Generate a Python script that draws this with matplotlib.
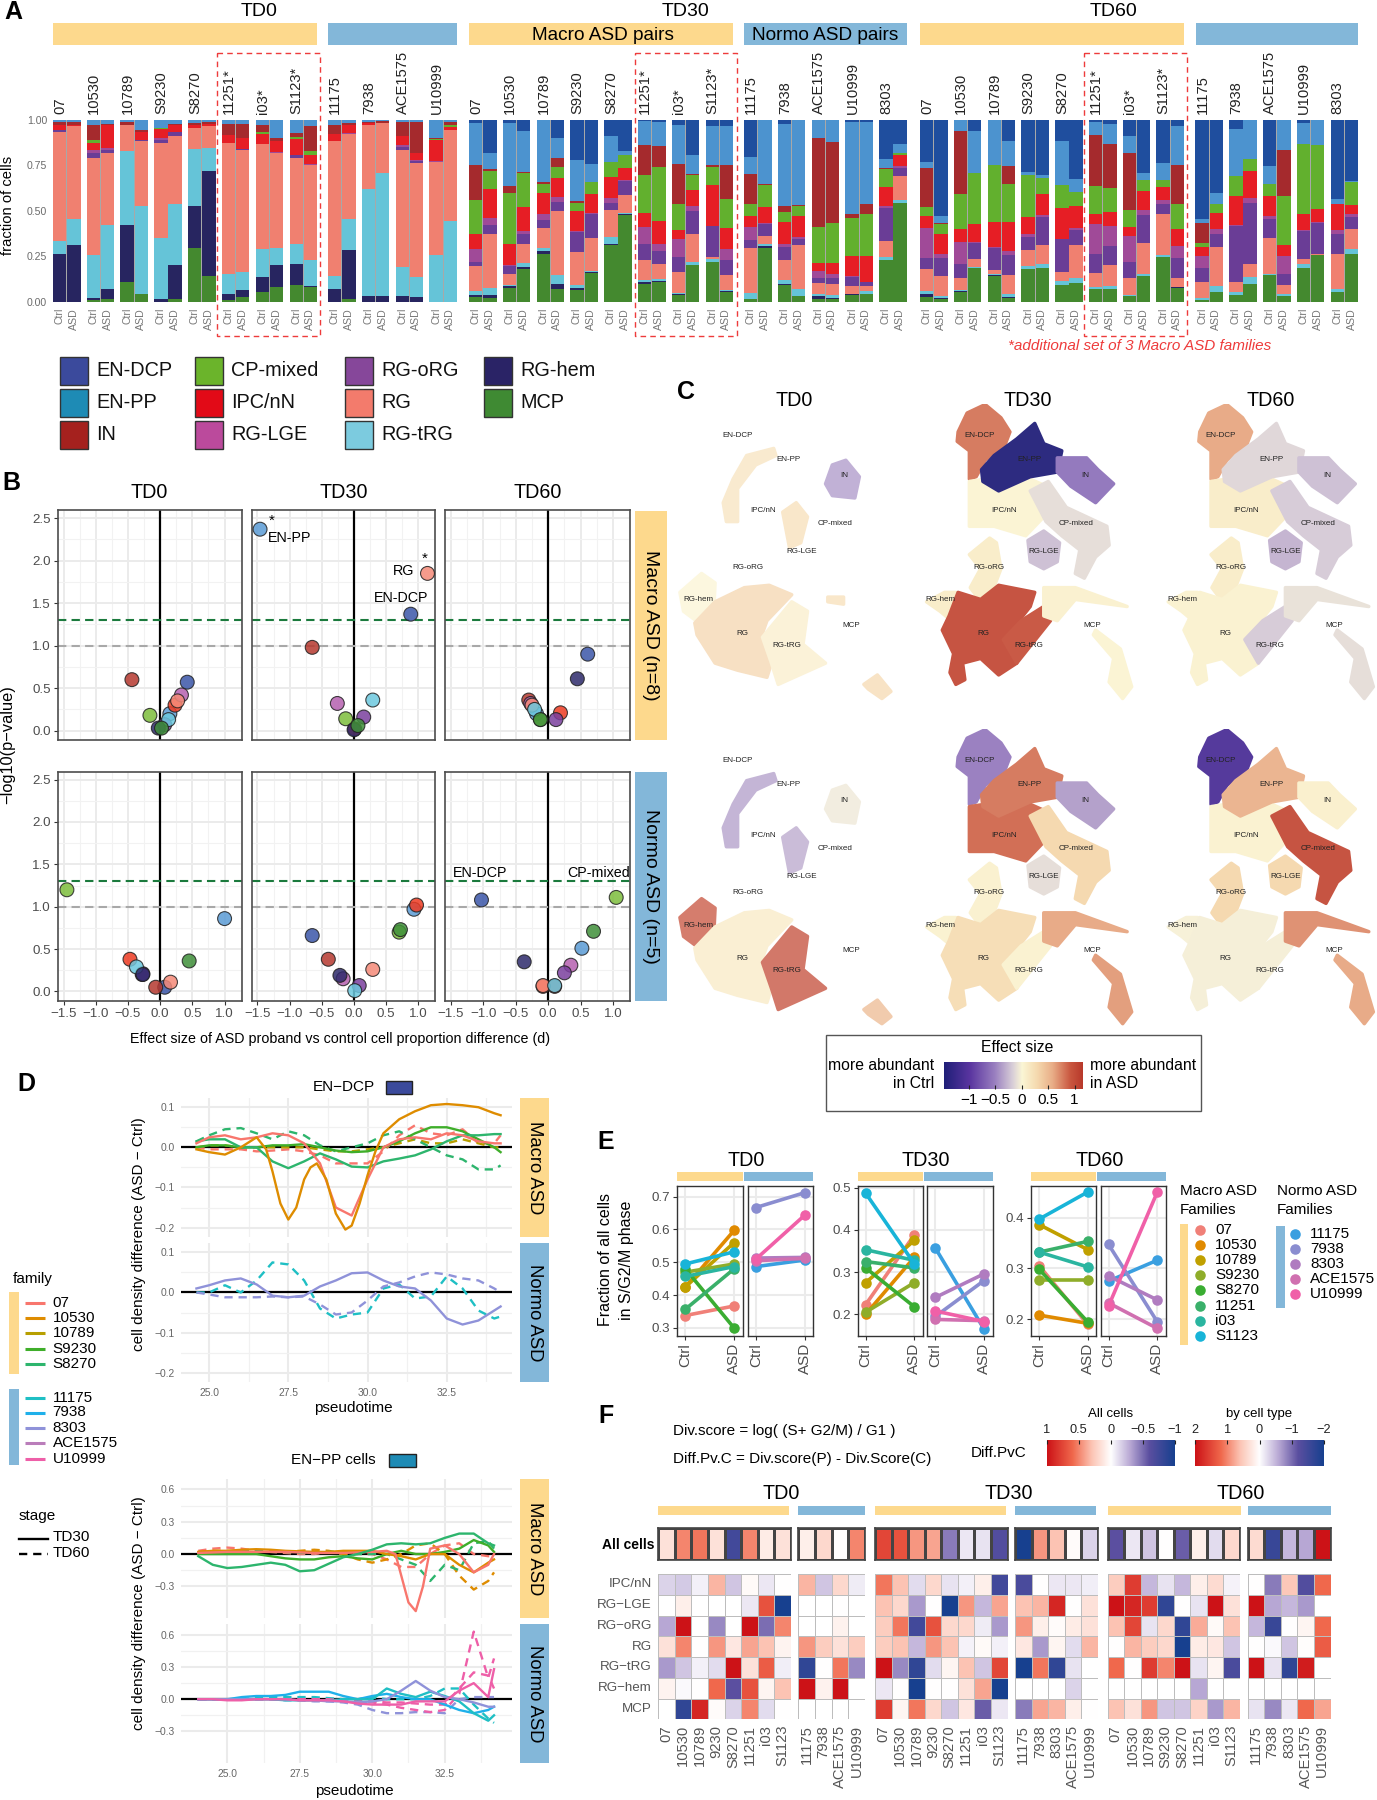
import numpy as np
import matplotlib
matplotlib.use('Agg')
import matplotlib.pyplot as plt
from matplotlib.colors import LinearSegmentedColormap, Normalize
from matplotlib.patches import Rectangle

plt.rcParams['font.family'] = ['Liberation Sans', 'DejaVu Sans']

W, H = 1377, 1800
YEL, BLU = '#FDD98D', '#83B7D9'
GREY = '#555555'

# ---------- panel A
cell_types = ['MCP', 'RG-hem', 'RG-tRG', 'RG', 'RG-oRG', 'RG-LGE', 'IPC/nN', 'CP-mixed', 'IN', 'EN-PP', 'EN-DCP']
bar_colors = ['#44892F', '#272560', '#65C4D8', '#F08070', '#6A3D96', '#A04A98', '#E61E25', '#62B02E', '#A52A2D', '#4C93CF', '#1F4E9E']
# cumulative tops of the stack, bottom to top, EN-DCP fills up to 1; Ctrl row then ASD row
macro_fams = ['07', '10530', '10789', 'S9230', 'S8270', '11251*', 'i03*', 'S1123*']
normo_fams4 = ['11175', '7938', 'ACE1575', 'U10999']
normo_fams5 = ['11175', '7938', 'ACE1575', 'U10999', '8303']
td0_macro = [
    [0, .265, .335, .935, .945, .945, .975, .975, .99, 1],
    [0, .31, .455, .965, .965, .965, .975, .975, .99, 1],
    [.01, .02, .255, .79, .82, .835, .875, .89, .97, 1],
    [.015, .07, .42, .82, .835, .845, .97, .97, .98, 1],
    [.11, .42, .83, .97, .97, .97, .975, .975, .99, 1],
    [.04, .04, .525, .885, .89, .89, .935, .935, .945, 1],
    [0, .015, .35, .875, .89, .9, .95, .955, .955, 1],
    [.015, .2, .535, .91, .935, .935, .97, .975, .98, 1],
    [.295, .525, .84, .955, .955, .955, .975, .975, .985, 1],
    [.14, .72, .845, .965, .965, .965, .98, .98, .99, 1],
    [.01, .04, .15, .875, .875, .875, .92, .92, .98, 1],
    [.025, .065, .165, .835, .84, .84, .9, .9, .98, 1],
    [.055, .135, .29, .87, .87, .87, .925, .935, .97, 1],
    [.08, .2, .295, .82, .82, .825, .885, .885, .9, 1],
    [.09, .205, .32, .79, .805, .805, .895, .905, .93, 1],
    [.08, .085, .23, .75, .755, .76, .81, .83, .965, 1]]
td0_normo = [
    [0, .07, .14, .885, .885, .885, .925, .925, .975, 1],
    [.015, .285, .455, .925, .925, .93, .97, .97, .985, 1],
    [0, .03, .62, .975, .975, .975, .985, .985, .99, 1],
    [0, .03, .71, .985, .985, .985, .985, .985, .995, 1],
    [0, .03, .19, .835, .85, .86, .91, .91, .99, 1],
    [0, .025, .135, .765, .775, .78, .82, .82, .99, 1],
    [0, 0, .255, .77, .77, .775, .89, .895, .9, 1],
    [0, 0, .445, .945, .945, .945, .96, .97, .99, 1]]
td30_macro = [
    [.025, .035, .06, .195, .22, .29, .37, .56, .75, .985],
    [.02, .035, .075, .37, .42, .46, .62, .72, .73, .82],
    [.075, .085, .09, .15, .195, .2, .32, .6, .635, .985],
    [.18, .19, .215, .32, .37, .39, .52, .71, .715, .94],
    [.26, .28, .295, .405, .45, .48, .6, .65, .66, 1],
    [.07, .1, .145, .5, .55, .575, .68, .74, .79, .9],
    [.065, .075, .09, .275, .385, .39, .5, .545, .555, .78],
    [.16, .165, .17, .35, .48, .49, .59, .66, .66, .76],
    [.31, .32, .355, .505, .545, .57, .685, .77, .77, .91],
    [.475, .48, .49, .585, .665, .67, .735, .805, .81, .83],
    [.1, .11, .12, .23, .32, .41, .49, .695, .86, .995],
    [.11, .115, .125, .205, .28, .32, .445, .74, .855, .99],
    [.035, .04, .05, .165, .245, .345, .395, .535, .76, .975],
    [.2, .2, .22, .375, .5, .525, .615, .695, .705, .805],
    [.22, .22, .235, .248, .415, .415, .64, .743, .75, .965],
    [.055, .06, .065, .145, .23, .29, .405, .565, .75, .965]]
td30_normo = [
    [.015, .015, .05, .295, .34, .41, .47, .54, .705, .795],
    [.295, .305, .315, .36, .43, .435, .52, .64, .65, 1],
    [.09, .1, .12, .23, .3, .32, .44, .495, .525, .98],
    [.03, .03, .07, .31, .345, .355, .47, .525, .53, 1],
    [.015, .03, .04, .105, .13, .17, .215, .41, .9, 1],
    [.015, .02, .035, .1, .13, .155, .215, .435, .88, 1],
    [.035, .04, .045, .085, .135, .14, .25, .46, .485, .99],
    [.04, .045, .06, .085, .11, .11, .25, .485, .54, .99],
    [.23, .23, .245, .335, .515, .525, .63, .73, .735, .785],
    [.545, .545, .56, .69, .735, .745, .805, .82, .82, .87]]
td60_macro = [
    [.025, .045, .06, .18, .24, .405, .47, .52, .735, .77],
    [.015, .02, .03, .14, .24, .26, .375, .43, .435, .47],
    [.055, .06, .065, .13, .21, .33, .4, .59, .94, 1],
    [.185, .185, .19, .235, .325, .33, .43, .71, .71, .94],
    [.14, .145, .15, .175, .295, .3, .44, .75, .75, 1],
    [.02, .025, .045, .145, .255, .28, .44, .65, .745, .885],
    [.18, .18, .195, .285, .355, .37, .465, .695, .695, .715],
    [.185, .185, .205, .31, .465, .475, .59, .68, .68, .695],
    [.09, .09, .115, .165, .345, .345, .515, .64, .64, .885],
    [.105, .105, .13, .31, .395, .405, .525, .605, .605, .675],
    [.07, .07, .08, .16, .26, .43, .485, .635, .915, .99],
    [.07, .07, .085, .2, .305, .415, .495, .625, .87, .98],
    [.03, .03, .035, .13, .22, .36, .41, .505, .82, .91],
    [.14, .14, .155, .325, .475, .505, .61, .67, .67, .71],
    [.245, .245, .255, .48, .54, .56, .63, .67, .67, .765],
    [.075, .08, .08, .13, .24, .305, .4, .54, .75, .965]]
td60_normo = [
    [.012, .012, .02, .11, .185, .25, .3, .325, .435, .455],
    [.055, .055, .085, .3, .375, .4, .49, .54, .54, .6],
    [.035, .035, .055, .11, .415, .42, .58, .69, .69, .95],
    [.1, .1, .135, .21, .545, .57, .72, .785, .785, 1],
    [.145, .145, .155, .35, .455, .47, .58, .65, .65, .745],
    [.03, .03, .04, .09, .155, .25, .31, .58, .835, 1],
    [.185, .185, .205, .235, .39, .395, .485, .87, .87, .985],
    [.255, .255, .255, .265, .435, .44, .51, .865, .865, 1],
    [.055, .055, .07, .26, .37, .395, .535, .54, .54, .565],
    [.26, .26, .29, .4, .465, .485, .53, .66, .66, .665]]
legend_a = [['EN-DCP', 'EN-PP', 'IN'], ['CP-mixed', 'IPC/nN', 'RG-LGE'], ['RG-oRG', 'RG', 'RG-tRG'], ['RG-hem', 'MCP']]
legend_a_colors = {'EN-DCP': '#3B4A9C', 'EN-PP': '#1E8BB5', 'IN': '#A5211E', 'CP-mixed': '#6BB42B', 'IPC/nN': '#E20A17',
                   'RG-LGE': '#BB4A9C', 'RG-oRG': '#86479A', 'RG': '#F37B6C', 'RG-tRG': '#7CCBDF', 'RG-hem': '#2A2366', 'MCP': '#3F8A33'}

# ---------- panel B  (x, y per cell type)
b_order = ['EN-DCP', 'EN-PP', 'IN', 'CP-mixed', 'IPC/nN', 'RG-LGE', 'RG-oRG', 'RG', 'RG-tRG', 'RG-hem', 'MCP']
b_colors = ['#3B56A8', '#5B9BD5', '#B5382F', '#7DBE3C', '#EE3B22', '#B560B0', '#7A3F9E', '#F58A78', '#6CC8DE', '#2E2A6B', '#3F8F3A']
bx_macro_td0 = [.42, .15, -.44, -.16, .23, .33, .07, .27, .13, -.03, .02]
by_macro_td0 = [.57, .2, .6, .18, .3, .42, .07, .35, .13, .03, .03]
bx_macro_td30 = [.88, -1.46, -.65, -.13, .01, -.26, .15, 1.14, .29, 0, .06]
by_macro_td30 = [1.37, 2.37, .98, .14, .02, .32, .16, 1.85, .36, .01, .06]
bx_macro_td60 = [.61, -.18, -.3, -.12, .19, -.27, .12, -.25, -.21, .45, -.12]
by_macro_td60 = [.9, .2, .36, .13, .21, .32, .13, .3, .25, .61, .13]
bx_normo_td0 = [.07, 1.0, -.07, -1.45, -.47, -.28, -.27, .16, -.37, -.27, .45]
by_normo_td0 = [.05, .86, .05, 1.2, .38, .2, .21, .11, .29, .2, .36]
bx_normo_td30 = [-.65, .93, -.4, .7, .97, -.17, .08, .29, .01, -.22, .72]
by_normo_td30 = [.66, .97, .38, .7, 1.02, .15, .07, .26, .01, .19, .73]
bx_normo_td60 = [-1.03, .52, .1, 1.05, -.08, .35, .25, -.08, .1, -.37, .7]
by_normo_td60 = [1.08, .51, .06, 1.11, .06, .31, .22, .07, .07, .35, .71]

early_shapes = {
    'EN-PP': [(125, 300), (118, 260), (140, 210), (170, 160), (230, 145), (235, 160), (190, 180), (150, 230), (150, 300)],
    'IN': [(345, 220), (360, 180), (390, 170), (420, 205), (410, 250), (360, 245)],
    'IPC': [(250, 280), (280, 260), (305, 290), (290, 345), (265, 355)],
    'hem': [(22, 450), (70, 410), (100, 430), (98, 470), (65, 515), (30, 490)],
    'RG': [(55, 515), (100, 470), (165, 440), (220, 435), (270, 455), (215, 510), (200, 550), (225, 600), (215, 630), (150, 615), (100, 600), (60, 540)],
    'tRG': [(205, 545), (270, 470), (305, 490), (295, 560), (345, 600), (240, 645), (225, 600)],
    'MCP': [(430, 645), (460, 625), (490, 660), (470, 675), (440, 655)],
    'stream': [(350, 460), (385, 460), (385, 475), (350, 470)]}
late_shapes = {
    'DCP': [(103, 110), (123, 70), (163, 52), (198, 80), (218, 110), (208, 135), (163, 170), (143, 205), (128, 210), (128, 150), (101, 130)],
    'IPC': [(128, 215), (163, 210), (193, 235), (263, 210), (298, 225), (293, 290), (253, 330), (183, 310), (128, 310)],
    'PP': [(155, 190), (183, 160), (233, 125), (273, 92), (293, 135), (333, 150), (323, 195), (263, 205), (193, 235), (158, 215)],
    'IN': [(323, 165), (388, 165), (413, 190), (448, 220), (408, 260), (353, 225), (323, 195)],
    'CP': [(263, 235), (303, 215), (343, 270), (433, 310), (438, 350), (408, 375), (383, 420), (363, 410), (373, 360), (333, 330), (298, 300)],
    'LGE': [(258, 340), (293, 320), (328, 345), (323, 385), (293, 400), (263, 385)],
    'oRG': [(128, 370), (173, 335), (188, 345), (198, 400), (178, 450), (150, 465), (130, 440), (153, 400)],
    'hem': [(33, 470), (73, 450), (98, 450), (88, 510), (63, 490)],
    'RG': [(83, 500), (103, 450), (153, 465), (193, 435), (273, 450), (263, 480), (213, 540), (203, 560), (233, 600), (193, 625), (153, 590), (113, 600), (118, 635), (98, 645), (85, 620), (93, 580), (68, 530)],
    'tRG': [(203, 550), (243, 510), (293, 480), (308, 510), (233, 600)],
    'MCP': [(408, 530), (463, 570), (488, 650), (468, 675), (438, 640), (448, 590), (403, 540)],
    'stream': [(293, 440), (363, 440), (478, 480), (363, 465), (323, 510), (293, 500)]}
effect_macro_td0 = {'EN-PP': .2, 'IN': -.45, 'IPC': .25, 'hem': .03, 'RG': .32, 'tRG': .1, 'MCP': .3, 'stream': .25}
effect_normo_td0 = {'EN-PP': -.4, 'IN': -.07, 'IPC': -.35, 'hem': .95, 'RG': .12, 'tRG': 1.0, 'MCP': .5}
effect_macro_td30 = {'DCP': .8, 'PP': -1.45, 'IN': -.6, 'IPC': .03, 'CP': -.12, 'LGE': -.25, 'oRG': .1, 'RG': 1.0, 'hem': .1, 'tRG': .95, 'MCP': .03, 'stream': .06}
effect_macro_td60 = {'DCP': .6, 'PP': -.15, 'IN': -.25, 'IPC': .1, 'CP': -.2, 'LGE': -.3, 'oRG': .1, 'RG': .05, 'hem': .05, 'tRG': -.2, 'MCP': -.12, 'stream': -.1}
effect_normo_td30 = {'DCP': -.55, 'PP': .8, 'IN': -.4, 'IPC': .85, 'CP': .3, 'LGE': -.12, 'oRG': .06, 'RG': .25, 'hem': .05, 'tRG': .05, 'MCP': .65, 'stream': .6}
effect_normo_td60 = {'DCP': -1.1, 'PP': .55, 'IN': .07, 'IPC': .05, 'CP': 1.0, 'LGE': .3, 'oRG': .3, 'RG': -.04, 'hem': -.03, 'tRG': -.04, 'MCP': .6, 'stream': .7}
umap_labels = {'EN-DCP': (150, 117), 'EN-PP': (262, 169), 'IN': (386, 203), 'IPC/nN': (206, 276), 'CP-mixed': (365, 304),
               'RG-LGE': (293, 364), 'RG-oRG': (172, 397), 'RG-hem': (64, 466), 'RG': (160, 537), 'RG-tRG': (259, 563), 'MCP': (401, 520)}

# ---------- panel D
fam_colors = {'07': '#F8766D', '10530': '#DE8C00', '10789': '#B79F00', 'S9230': '#3FAE2A', 'S8270': '#2DB56D',
              '11175': '#1FBFC4', '7938': '#1FB0EA', '8303': '#8F92D9', 'ACE1575': '#BA7DBA', 'U10999': '#EE5FA8'}
pt_dcp = [24.6, 25, 25.5, 26, 26.5, 27, 27.5, 28, 28.5, 29, 29.5, 30, 30.5, 31, 31.5, 32, 32.5, 33, 33.5, 34, 34.2]
pt_dcp_10530 = [24.6, 25, 25.5, 26, 26.5, 26.8, 27, 27.25, 27.5, 27.75, 28, 28.2, 28.4, 28.7, 29, 29.3, 29.5, 29.75, 30, 30.25, 30.5, 31, 31.5, 32, 32.5, 33, 33.5, 34, 34.2]
dcp_10530_td30 = [-.005, -.012, -.018, 0, .025, -.005, -.06, -.14, -.18, -.15, -.08, -.05, -.04, -.08, -.165, -.205, -.195, -.14, -.07, -.01, .035, .07, .09, .105, .108, .105, .1, .085, .08]
dcp_07_td30 = [.01, .025, .03, .02, .025, .035, .03, .01, -.04, -.15, -.17, -.08, 0, .02, .025, .02, .035, .03, .015, .01, .01]
dcp_s8270_td30 = [.015, .02, .02, 0, 0, -.035, -.052, -.035, -.015, -.03, -.048, -.05, -.035, -.028, -.02, -.005, .015, .03, .03, .033, .033]
dcp_s9230_td30 = [0, .005, .005, 0, 0, .005, .005, .008, 0, -.008, -.012, -.01, 0, .015, .035, .05, .05, .04, .02, 0, -.012]
dcp_s8270_td60 = [.015, .03, .045, .048, .035, .02, .04, .03, .005, -.01, 0, .01, .03, .04, .02, 0, -.02, -.03, -.055, -.055, -.045]
dcp_07_td60 = [0, -.005, -.005, -.005, -.01, -.008, -.005, -.01, -.02, -.04, -.04, -.04, -.01, .03, .055, .035, .03, .045, .01, .01, .03]
dcp_10789_td60 = [0, .005, .005, 0, 0, 0, 0, 0, -.005, -.01, -.01, -.005, 0, .01, .02, .01, .01, .02, .01, 0, 0]
dcp_8303_td30 = [.01, .018, .03, .035, .02, -.008, -.012, -.008, .015, .03, .048, .05, .03, .015, .01, -.02, -.065, -.08, -.07, -.045, -.035]
dcp_11175_td60 = [0, 0, .018, 0, .03, .075, .07, .03, -.04, -.065, -.055, -.05, .01, .02, -.015, -.01, .04, .01, -.045, -.065, -.06]
dcp_8303_td60 = [0, -.005, -.012, -.012, -.012, -.01, -.012, -.01, -.03, -.055, -.05, -.02, .015, .025, .04, .05, .045, .035, .03, .01, 0]

pt_pp = [24, 24.5, 25, 25.5, 26, 26.5, 27, 27.5, 28, 28.5, 29, 29.5, 30, 30.5, 31, 31.5, 32, 32.5, 33, 33.5, 34, 34.2]
pt_pp_07 = [24, 25, 26, 27, 28, 29, 30, 30.5, 30.8, 31, 31.25, 31.5, 31.75, 32, 32.5, 33, 33.5, 34, 34.2]
pp_07_td30 = [.01, .02, .02, .02, .01, .01, .02, .03, 0, -.2, -.45, -.53, -.3, .05, .08, 0, -.17, -.1, 0]
pp_s8270_td30 = [-.02, -.1, -.13, -.12, -.1, -.08, -.1, -.16, -.15, -.09, -.03, 0, .04, .09, .1, .09, .1, .15, .19, .19, .1, .08]
pp_10530_td30 = [.02, .03, .03, .04, .045, .04, .03, .025, .02, .02, .03, .03, .03, 0, -.02, -.05, 0, 0, -.1, -.17, -.08, -.05]
pp_s9230_td30 = [0, 0, 0, 0, 0, -.02, -.04, -.05, -.05, -.03, -.02, -.04, -.05, 0, .03, 0, 0, .02, .05, .13, .08, .02]
pp_07_td60 = [.03, .05, .06, .05, .03, .02, .01, 0, 0, .02, 0, 0, 0, -.05, -.12, -.12, 0, .08, .1, 0, -.02, -.02]
pp_10530_td60 = [.02, .03, .03, .03, .03, .03, .02, .03, .04, .03, 0, -.05, -.08, -.05, 0, .08, .1, 0, -.2, -.33, -.25, -.17]
pp_s8270_td60 = [.01, .02, .02, .03, .03, .02, .02, .01, .01, .02, .02, 0, 0, 0, -.05, -.1, -.25, -.1, -.15, .1, .12, .05]
pp_7938_td30 = [0, 0, 0, .02, .03, .03, .04, .07, .07, .07, .03, 0, .03, .05, .02, 0, 0, -.05, -.1, -.13, -.1, -.07]
pp_11175_td30 = [0, 0, 0, 0, 0, 0, -.01, -.01, -.01, -.01, 0, 0, 0, .1, .05, .02, .07, .03, -.02, -.13, -.2, -.15]
pp_8303_td30 = [0, 0, 0, 0, 0, 0, 0, -.01, -.01, -.02, -.02, -.03, -.02, 0, .08, .17, .08, .02, 0, -.03, -.07, -.07]
pp_u10999_td30 = [0, 0, -.01, -.01, 0, 0, 0, -.01, -.01, -.01, -.02, -.04, -.05, -.05, -.05, -.02, -.02, -.02, .08, .15, .02, .28]
pp_11175_td60 = [0, 0, 0, 0, .01, .02, .02, .02, .02, .01, 0, 0, .02, 0, 0, 0, .03, .1, .1, -.05, -.18, -.22]
pp_8303_td60 = [0, 0, 0, 0, 0, 0, -.01, -.01, -.02, -.02, -.03, -.05, -.1, -.13, -.13, -.12, -.12, -.13, 0, .02, .02, .02]
pp_u10999_td60 = [0, 0, 0, 0, 0, 0, 0, 0, 0, -.01, -.02, -.03, -.03, -.05, -.08, -.1, -.12, -.1, .05, .63, .2, .38]
pp_ace_td60 = [0, 0, 0, 0, 0, 0, 0, 0, 0, 0, -.01, -.01, -.02, -.03, -.03, -.04, -.05, -.05, .1, .25, .22, .1]

# ---------- panel E  (Ctrl, ASD)
e_macro = ['07', '10530', '10789', 'S9230', 'S8270', '11251', 'i03', 'S1123']
e_normo = ['11175', '7938', '8303', 'ACE1575', 'U10999']
e_macro_colors = ['#F08078', '#E08A00', '#C0A000', '#8FAD2A', '#3AAD32', '#3AB06A', '#2AB5A0', '#18B4D8']
e_normo_colors = ['#3A9FE0', '#8A8DD0', '#B07CC0', '#D070B0', '#F060A8']
e_td0_macro = [(.338, .367), (.425, .597), (.425, .56), (.47, .495), (.48, .30), (.357, .48), (.457, .487), (.495, .532)]
e_td0_normo = [(.487, .507), (.667, .712), (.513, .515), (.505, .512), (.51, .643)]
e_td30_macro = [(.223, .388), (.2, .335), (.275, .375), (.205, .275), (.31, .218), (.325, .31), (.353, .328), (.487, .32)]
e_td30_normo = [(.357, .165), (.195, .28), (.24, .296), (.188, .185), (.208, .183)]
e_td60_macro = [(.305, .19), (.208, .192), (.386, .337), (.278, .278), (.298, .195), (.332, .353), (.332, .303), (.397, .45)]
e_td60_normo = [(.275, .316), (.347, .195), (.285, .238), (.232, .182), (.226, .45)]

# ---------- panel F
f_rows = ['IPC/nN', 'RG\u2212LGE', 'RG\u2212oRG', 'RG', 'RG\u2212tRG', 'RG\u2212hem', 'MCP']
f_td0_fams = ['07', '10530', '10789', '9230', 'S8270', '11251', 'i03', 'S1123']
f_td60_fams = ['07', '10530', '10789', 'S9230', 'S8270', '11251', 'i03', 'S1123']
f_n4 = ['11175', '7938', 'ACE1575', 'U10999']
f_n5 = ['11175', '7938', '8303', 'ACE1575', 'U10999']
n = np.nan
all_td0_macro = [.15, .5, .55, .15, -.75, .5, .1, .15]
all_td0_normo = [.08, .2, 0, .5]
all_td30_macro = [.75, .7, .45, .4, -.45, -.08, -.1, -.65]
all_td30_normo = [-1, .45, .3, .02, -.15]
all_td60_macro = [-.6, -.08, -.2, 0, -.55, .08, -.12, .2]
all_td60_normo = [.18, -.8, -.25, -.3, 1]
cell_td0_macro = [[-.15, -.18, -.05, .35, -.2, .03, -.08, 0], [n, .08, n, n, n, -.08, .7, -1], [-.3, 1, n, -.4, n, 1, -.5, .5],
                  [.15, .5, 0, .45, .12, .4, .3, .06], [-.35, -.2, -.05, -.12, 1, .15, .65, -.06], [.06, -.02, 0, .6, -.6, .7, .05, .3],
                  [n, -.85, .9, .02, -.15, .5, -.12, 0]]
cell_td0_normo = [[.35, -.2, .2, -.07], [n, n, 0, n], [n, n, .07, n], [.45, .25, .15, .25], [-.85, 0, .55, -.4], [1, .07, 1, n], [n, n, n, n]]
cell_td30_macro = [[.55, .3, -.12, .2, -.1, -.05, .08, -.75], [.3, .2, -.35, 0, -1, .45, -.25, .4], [.25, .55, -.75, .7, .2, .2, -.07, -.35],
                   [.25, .3, -.25, .45, .3, -.04, .03, -.05], [1, -.4, -.85, -.12, .05, .3, -.2, .75], [-.08, 0, -1, 0, 0, .15, .4, -1],
                   [.8, .05, .55, .2, -.2, .12, -.55, -.08]]
cell_td30_normo = [[-.7, 0, -.08, -.08, -.06], [.3, .35, .9, 0, .15], [.45, .08, .02, .1, .15], [.12, -.35, .05, -.12, .35],
                   [-1, .55, -.85, -.1, n], [n, n, n, -.15, n], [-.45, .4, .35, .08, 0]]
cell_td60_macro = [[.25, .8, -.25, -.1, -.25, .08, .18, -.04], [1, .9, .8, -.85, 0, -.1, 1, .15], [.3, .75, -.1, .2, -.85, .38, .03, .3],
                   [0, .35, .25, .2, -1, .1, .12, -.2], [.6, 0, .8, .5, 1, -.1, .05, -.7], [n, n, n, n, n, -.3, n, n],
                   [.3, .15, .45, -.2, -.2, .22, -.35, .35]]
cell_td60_normo = [[0, -.45, .28, -.65, .6], [1, -.3, -.25, -.35, n], [-.25, -.8, 0, .05, .6], [0, -.02, -.2, .01, .65],
                   [1, -.1, -.85, .95, n], [n, n, n, n, n], [-.1, -.4, -.08, .6, .4]]

fig = plt.figure(figsize=(W / 100, H / 100), dpi=100)


def axpx(x0, y0, x1, y1):
    return fig.add_axes([x0 / W, 1 - y1 / H, (x1 - x0) / W, (y1 - y0) / H])


bg = axpx(0, 0, W, H)
bg.set_xlim(0, W)
bg.set_ylim(H, 0)
bg.axis('off')


def label(x, y, s, size=10, color='black', ha='center', va='center', **kw):
    bg.text(x, y, s, fontsize=size, color=color, ha=ha, va=va, **kw)


def box(x0, y0, x1, y1, color, **kw):
    bg.add_patch(Rectangle((x0, y0), x1 - x0, y1 - y0, facecolor=color, **{'edgecolor': 'none', **kw}))


for s, x, y in [('A', 13, 12), ('B', 11, 483), ('C', 686, 392), ('D', 26, 1084), ('E', 606, 1142), ('F', 606, 1416)]:
    label(x, y, s, 18, fontweight='bold')

# ---------- A
ax_a = axpx(0, 120, W, 301.7)
ax_a.set_xlim(0, W)
ax_a.set_ylim(0, 1)
ax_a.patch.set_alpha(0)
for sp in ax_a.spines.values():
    sp.set_visible(False)
ax_a.set_xticks([])
ax_a.set_yticks([0, .25, .5, .75, 1])
ax_a.set_yticklabels(['0.00', '0.25', '0.50', '0.75', '1.00'], fontsize=7.6, color='#6b6b6b')
ax_a.tick_params(axis='y', length=0, pad=-34)
label(8, 205, 'fraction of cells', 10.6, rotation=90)

groups_a = [(53, macro_fams, td0_macro, YEL), (328, normo_fams4, td0_normo, BLU), (469, macro_fams, td30_macro, YEL),
            (744, normo_fams5, td30_normo, BLU), (920, macro_fams, td60_macro, YEL), (1195.5, normo_fams5, td60_normo, BLU)]
pitch, bar_w = 33.8, 13.4
for x0, fams, tops, strip in groups_a:
    box(x0, 22.7, x0 + pitch * len(fams) - 6.4, 45, strip)
    for i, fam in enumerate(fams):
        px = x0 + i * pitch
        label(px + 7, 114, fam, 10.6, color='#222222', rotation=90, va='bottom')
        ax_a.bar(px + 13.7, 1, width=27.4, color='#A8A8A8', linewidth=0, zorder=0)
        for j, who in enumerate(['Ctrl', 'ASD']):
            cx = px + 6.6 + j * 14.2
            row = list(tops[2 * i + j]) + [1]
            bottoms = [0] + row[:-1]
            for k in range(11):
                ax_a.bar(cx, row[k] - bottoms[k], bottom=bottoms[k], width=bar_w, color=bar_colors[k], linewidth=0, zorder=1)
            label(cx, 308, who, 7.6, color='#777777', rotation=90, va='top')
for x0, x1 in [(217, 320), (635, 737), (1084, 1187)]:
    bg.add_patch(Rectangle((x0, 53), x1 - x0, 283, fill=False, edgecolor='#EE3B3B', linestyle=(0, (4, 3)), linewidth=1))
label(259, 11, 'TD0', 14)
label(686, 11, 'TD30', 14)
label(1113, 11, 'TD60', 14)
label(603, 35, 'Macro ASD pairs', 13.7)
label(825, 35, 'Normo ASD pairs', 13.7)
label(1008, 346, '*additional set of 3 Macro ASD families', 11, color='#EE3B3B', ha='left', style='italic')
for col, sx, tx in zip(legend_a, [60, 195, 345, 484], [96, 231, 381, 520]):
    for name, sy in zip(col, [357, 388.5, 421]):
        box(sx, sy, sx + 28, sy + 28, legend_a_colors[name], edgecolor='#333333', linewidth=1)
        label(tx, sy + 14, name, 14.3, ha='left', color='#111111')

# ---------- B
b_x = [(57.7, 241.5), (251.5, 435.4), (445, 630)]
b_y = [(510.5, 740), (772, 1000.8)]
b_data = [[(bx_macro_td0, by_macro_td0), (bx_macro_td30, by_macro_td30), (bx_macro_td60, by_macro_td60)],
          [(bx_normo_td0, by_normo_td0), (bx_normo_td30, by_normo_td30), (bx_normo_td60, by_normo_td60)]]
b_axes = {}
for r, (y0, y1) in enumerate(b_y):
    for c, (x0, x1) in enumerate(b_x):
        ax = axpx(x0, y0, x1, y1)
        b_axes[r, c] = ax
        ax.set_xlim(-1.593, 1.263)
        ax.set_ylim(-.11, 2.59)
        ax.set_xticks([-1.5, -1, -.5, 0, .5, 1])
        ax.set_yticks([0, .5, 1, 1.5, 2, 2.5])
        ax.set_xticks(np.arange(-1.25, 1.26, .5), minor=True)
        ax.set_yticks(np.arange(.25, 2.3, .5), minor=True)
        ax.grid(True, which='major', color='#EBEBEB', lw=1.4)
        ax.grid(True, which='minor', color='#F2F2F2', lw=.8)
        ax.set_axisbelow(True)
        ax.tick_params(which='minor', length=0)
        ax.tick_params(which='major', labelsize=9.6, labelcolor='#4D4D4D', color='#333333', length=3, width=.8, pad=2)
        if r == 0:
            ax.tick_params(axis='x', which='major', labelbottom=False, length=0)
        if c > 0:
            ax.tick_params(axis='y', which='major', labelleft=False, length=0)
        for sp in ax.spines.values():
            sp.set_color('#4D4D4D')
            sp.set_linewidth(1.2)
        ax.axvline(0, color='black', lw=1.6, zorder=2)
        ax.axhline(1.3, color='#1B7A3D', lw=1.5, ls=(0, (4, 2.5)), zorder=2)
        ax.axhline(1.0, color='#A8A8A8', lw=1.5, ls=(0, (4, 2.5)), zorder=2)
        xs, ys = b_data[r][c]
        ax.scatter(xs, ys, s=100, c=b_colors, edgecolors='#222222', linewidths=.8, alpha=.85, zorder=3, clip_on=False)
b_axes[0, 1].text(-1.343, 2.27, 'EN-PP', fontsize=10.3, va='center')
b_axes[0, 1].text(-1.274, 2.47, '*', fontsize=11, va='center', ha='center')
b_axes[0, 1].text(.934, 1.88, 'RG', fontsize=10.3, va='center', ha='right')
b_axes[0, 1].text(1.09, 2.02, '*', fontsize=11, va='center', ha='center')
b_axes[0, 1].text(1.156, 1.56, 'EN-DCP', fontsize=10.3, va='center', ha='right')
b_axes[1, 2].text(-1.47, 1.40, 'EN-DCP', fontsize=10.3, va='center')
b_axes[1, 2].text(1.257, 1.40, 'CP-mixed', fontsize=10.3, va='center', ha='right')
for (x0, x1), t in zip(b_x, ['TD0', 'TD30', 'TD60']):
    label((x0 + x1) / 2, 492, t, 14.2)
box(635, 510.5, 666.5, 740, YEL)
box(635, 772, 666.5, 1000.8, BLU)
label(651, 625, 'Macro ASD (n=8)', 14, rotation=-90)
label(651, 886, 'Normo ASD (n=5)', 14, rotation=-90)
label(8, 745, '\u2212log10(p\u2212value)', 11.8, rotation=90)
label(340, 1038.6, 'Effect size of ASD proband vs control cell proportion difference (d)', 10.3)

# ---------- C
neg = 1.48 / 2.63
umap_cmap = LinearSegmentedColormap.from_list('effect', [
    (0, '#1F1F78'), (neg * .33, '#5A35A0'), (neg * .65, '#9A80C0'), (neg * .88, '#D9CFD8'), (neg, '#FBF6D5'),
    (neg + (1 - neg) * .25, '#F5D9AE'), (neg + (1 - neg) * .5, '#E9AE88'), (neg + (1 - neg) * .8, '#C9563F'), (1, '#B8392B')])
umap_norm = Normalize(-1.48, 1.15)
umap_panels = [[(early_shapes, effect_macro_td0, .7), (late_shapes, effect_macro_td30, .95), (late_shapes, effect_macro_td60, .95)],
               [(early_shapes, effect_normo_td0, .75), (late_shapes, effect_normo_td30, .95), (late_shapes, effect_normo_td60, .95)]]
for r, row in enumerate(umap_panels):
    for c, (shapes, effects, fade) in enumerate(row):
        x0 = 670 + c * 536 / 2.218
        y0 = 380 + (50 + r * 689) / 2.119
        ax = axpx(x0, y0, x0 + 530 / 2.218, y0 + 650 / 2.119)
        ax.set_xlim(0, 530)
        ax.set_ylim(700, 50)
        ax.axis('off')
        for name, outline in shapes.items():
            if name not in effects:
                continue
            col = np.array(umap_cmap(umap_norm(effects[name]))[:3]) * fade + (1 - fade)
            px, py = zip(*outline)
            ax.fill(px, py, facecolor=col, edgecolor=col, lw=2.5, joinstyle='round')
        for name, (tx, ty) in umap_labels.items():
            ax.text(tx, ty, name, fontsize=5.8, color='#222222', ha='center', va='center')
for x, t in [(794, 'TD0'), (1028, 'TD30'), (1270.5, 'TD60')]:
    label(x, 401, t, 14.2)
bg.add_patch(Rectangle((825.5, 1034.5), 375.5, 76, fill=False, edgecolor='#555555', linewidth=1))
label(1017, 1047, 'Effect size', 11.3)
label(934.6, 1065.7, 'more abundant', 11.3, ha='right')
label(934.6, 1083.6, 'in Ctrl', 11.3, ha='right')
label(1090, 1065.7, 'more abundant', 11.3, ha='left')
label(1090, 1083.6, 'in ASD', 11.3, ha='left')
cb = axpx(943.7, 1062, 1082.5, 1089.3)
cb.imshow(np.linspace(-1.48, 1.15, 256)[None, :], aspect='auto', cmap=umap_cmap, norm=umap_norm, extent=(-1.48, 1.15, 0, 1))
cb.set_yticks([])
cb.set_xticks([-1, -.5, 0, .5, 1])
cb.set_xticklabels(['\u22121', '\u22120.5', '0', '0.5', '1'], fontsize=11)
cb.tick_params(axis='x', direction='in', length=3, width=.8, color='#222222', pad=3)
for sp in cb.spines.values():
    sp.set_visible(False)

# ---------- D
d_solid, d_dash = '-', (0, (3.5, 2.5))
dcp_macro = [(pt_dcp, dcp_07_td60, '07', d_dash), (pt_dcp, dcp_10789_td60, '10789', d_dash), (pt_dcp, dcp_s8270_td60, 'S8270', d_dash),
             (pt_dcp, dcp_s9230_td30, 'S9230', d_solid), (pt_dcp, dcp_s8270_td30, 'S8270', d_solid),
             (pt_dcp, dcp_07_td30, '07', d_solid), (pt_dcp_10530, dcp_10530_td30, '10530', d_solid)]
dcp_normo = [(pt_dcp, dcp_11175_td60, '11175', d_dash), (pt_dcp, dcp_8303_td60, '8303', d_dash), (pt_dcp, dcp_8303_td30, '8303', d_solid)]
pp_macro = [(pt_pp, pp_07_td60, '07', d_dash), (pt_pp, pp_10530_td60, '10530', d_dash), (pt_pp, pp_s8270_td60, 'S8270', d_dash),
            (pt_pp, pp_s9230_td30, 'S9230', d_solid), (pt_pp, pp_10530_td30, '10530', d_solid),
            (pt_pp_07, pp_07_td30, '07', d_solid), (pt_pp, pp_s8270_td30, 'S8270', d_solid)]
pp_normo = [(pt_pp, pp_8303_td60, '8303', d_dash), (pt_pp, pp_11175_td60, '11175', d_dash), (pt_pp, pp_ace_td60, 'U10999', d_dash),
            (pt_pp, pp_u10999_td60, 'U10999', d_dash), (pt_pp, pp_7938_td30, '7938', d_solid), (pt_pp, pp_11175_td30, '11175', d_solid),
            (pt_pp, pp_8303_td30, '8303', d_solid), (pt_pp, pp_u10999_td30, 'U10999', d_solid)]
d_specs = [
    (1097.8, 1237, dcp_macro, (24.1, 34.56), (-.2235, .1235), [-.2, -.1, 0, .1], ['\u22120.2', '\u22120.1', '0.0', '0.1'], False),
    (1243, 1382, dcp_normo, (24.1, 34.56), (-.2235, .1235), [-.2, -.1, 0, .1], ['\u22120.2', '\u22120.1', '0.0', '0.1'], True),
    (1479, 1618, pp_macro, (23.39, 34.82), (-.594, .697), [-.3, 0, .3, .6], ['\u22120.3', '0.0', '0.3', '0.6'], False),
    (1624.4, 1763, pp_normo, (23.39, 34.82), (-.594, .697), [-.3, 0, .3, .6], ['\u22120.3', '0.0', '0.3', '0.6'], True)]
for y0, y1, curves, xl, yl, yt, ytl, bottom in d_specs:
    ax = axpx(180.6, y0, 512, y1)
    ax.set_xlim(*xl)
    ax.set_ylim(*yl)
    ax.set_xticks([25, 27.5, 30, 32.5])
    ax.set_xticklabels(['25.0', '27.5', '30.0', '32.5'] if bottom else [])
    ax.set_xticks([26.25, 28.75, 31.25, 33.75], minor=True)
    ax.set_yticks(yt)
    ax.set_yticklabels(ytl)
    ax.set_yticks([(a + b) / 2 for a, b in zip(yt[:-1], yt[1:])], minor=True)
    ax.grid(True, which='major', color='#EBEBEB', lw=1.5)
    ax.grid(True, which='minor', color='#F1F1F1', lw=.9)
    ax.set_axisbelow(True)
    ax.tick_params(which='both', length=0)
    ax.tick_params(which='major', labelsize=7.4, labelcolor='#666666', pad=4)
    for sp in ax.spines.values():
        sp.set_visible(False)
    ax.axhline(0, color='black', lw=1.6, zorder=2)
    for x, y, fam, ls in curves:
        ax.plot(x, y, color=fam_colors[fam], lw=1.7, ls=ls, zorder=3)
label(344, 1087, 'EN\u2212DCP', 11, )
box(386, 1081, 412, 1094, '#3B4A9C', edgecolor='#222222', linewidth=1)
label(333, 1460, 'EN\u2212PP cells', 11)
box(389.4, 1454, 415.7, 1467, '#1E8BB5', edgecolor='#222222', linewidth=1)
for y0, y1, c, t in [(1097.8, 1237, YEL, 'Macro ASD'), (1243, 1382, BLU, 'Normo ASD'), (1479, 1618, YEL, 'Macro ASD'), (1624.4, 1763, BLU, 'Normo ASD')]:
    box(520, y0, 549, y1, c)
    label(534.5, (y0 + y1) / 2, t, 13.3, rotation=-90)
label(138.5, 1234.6, 'cell density difference (ASD \u2212 Ctrl)', 11, rotation=90)
label(138.5, 1613.6, 'cell density difference (ASD \u2212 Ctrl)', 11, rotation=90)
label(353.6, 1408, 'pseudotime', 11)
label(354, 1790.5, 'pseudotime', 11)
label(12.5, 1278.5, 'family', 11, ha='left')
box(9.4, 1292, 18.8, 1374, YEL)
box(9.4, 1389, 18.8, 1465, BLU)
for fam, y in zip(['07', '10530', '10789', 'S9230', 'S8270', '11175', '7938', '8303', 'ACE1575', 'U10999'],
                  [1302.6, 1318, 1333, 1349, 1364, 1398, 1412.5, 1428, 1443, 1459]):
    bg.plot([24.5, 45], [y, y], color=fam_colors[fam], lw=2.2, solid_capstyle='butt')
    label(52.7, y, fam, 11, ha='left')
label(19, 1516, 'stage', 11, ha='left')
bg.plot([19, 48], [1538.5, 1538.5], color='black', lw=1.7)
bg.plot([19, 48], [1554, 1554], color='black', lw=1.7, ls=d_dash)
label(52.7, 1537, 'TD30', 11, ha='left')
label(52.7, 1553, 'TD60', 11, ha='left')

# ---------- E
e_specs = [
    (677.3, 742.6, 748, 813, (.2756, .7325), [.3, .4, .5, .6, .7], e_td0_macro, e_td0_normo),
    (857.6, 922.8, 927.3, 992.6, (.1487, .504), [.2, .3, .4, .5], e_td30_macro, e_td30_normo),
    (1031.3, 1096, 1100.5, 1165.8, (.167, .462), [.2, .3, .4], e_td60_macro, e_td60_normo)]
for (a0, a1, b0, b1, yl, yt, macro, normo), t in zip(e_specs, ['TD0', 'TD30', 'TD60']):
    for i, (x0, x1, vals, cols) in enumerate([(a0, a1, macro, e_macro_colors), (b0, b1, normo, e_normo_colors)]):
        ax = axpx(x0, 1186, x1, 1336)
        ax.set_xlim(-.165, 1.175)
        ax.set_ylim(*yl)
        ax.set_xticks([0, 1])
        ax.set_xticklabels(['Ctrl', 'ASD'], rotation=90, fontsize=11, color='#4D4D4D')
        ax.set_yticks(yt)
        ax.set_yticklabels([f'{v:.1f}' for v in yt] if i == 0 else [], fontsize=9.6, color='#4D4D4D')
        ax.grid(True, color='#EBEBEB', lw=1.5)
        ax.set_axisbelow(True)
        ax.tick_params(length=3, width=.8, color='#333333', pad=2)
        if i == 1:
            ax.tick_params(axis='y', length=0)
        for sp in ax.spines.values():
            sp.set_color('#333333')
            sp.set_linewidth(1)
        for v, col in zip(vals, cols):
            ax.plot([0, 1], v, color=col, lw=2.6, marker='o', ms=7.6, mew=0, clip_on=False)
    box(a0, 1172, a1, 1181, YEL)
    box(a1 + 1, 1172, b1, 1181, BLU)
    label((a0 + b1) / 2 + 1, 1160.7, t, 14.2)
label(606, 1260, 'Fraction of all cells', 11.5, rotation=90)
label(626, 1260, 'in S/G2/M phase', 11.5, rotation=90)
label(1180, 1191, 'Macro ASD', 11, ha='left')
label(1180, 1210, 'Families', 11, ha='left')
label(1276.7, 1191, 'Normo ASD', 11, ha='left')
label(1276.7, 1210, 'Families', 11, ha='left')
box(1180, 1224, 1188, 1345, YEL)
box(1276, 1226, 1285, 1308, BLU)
for i, (fam, col) in enumerate(zip(e_macro, e_macro_colors)):
    y = 1230 + i * 15.1
    bg.plot(1200, y, 'o', color=col, ms=7.6, mew=0)
    label(1215, y, fam, 11, ha='left')
for i, (fam, col) in enumerate(zip(e_normo, e_normo_colors)):
    y = 1234 + i * 15.1
    bg.plot(1295, y, 'o', color=col, ms=7.6, mew=0)
    label(1310, y, fam, 11, ha='left')

# ---------- F
f_cmap = LinearSegmentedColormap.from_list('diff', [
    (0, '#17408F'), (.2, '#5B4FA0'), (.35, '#B8A8D4'), (.5, '#FFFFFF'), (.65, '#FCC4B4'), (.8, '#F0684C'), (1, '#CC1217')])
f_norm = Normalize(-1, 1)
label(672.8, 1430.7, 'Div.score = log( (S+ G2/M) / G1 )', 11, ha='left')
label(672.8, 1459.3, 'Diff.Pv.C = Div.score(P) - Div.Score(C)', 11, ha='left')
label(999, 1452.7, 'Diff.PvC', 11)
label(1110.6, 1414, 'All cells', 9.5)
label(1258.7, 1414, 'by cell type', 9.5)
for x0, x1, lim, ticks, labs in [(1046.8, 1174.8, 1, [1, .5, 0, -.5, -1], ['1', '0.5', '0', '\u22120.5', '\u22121']),
                                 (1195, 1324, 2, [2, 1, 0, -1, -2], ['2', '1', '0', '\u22121', '\u22122'])]:
    cb = axpx(x0, 1440, x1, 1465.7)
    cb.imshow(np.linspace(lim, -lim, 256)[None, :], aspect='auto', cmap=f_cmap, vmin=-lim, vmax=lim, extent=(lim, -lim, 0, 1))
    cb.set_yticks([])
    cb.set_xticks(ticks)
    cb.set_xticklabels(labs, fontsize=9.2, color='#222222')
    cb.xaxis.tick_top()
    cb.tick_params(axis='x', direction='in', length=3, width=.8, color='#222222', pad=3)
    for sp in cb.spines.values():
        sp.set_visible(False)
for x, t in [(780.8, 'TD0'), (1009, 'TD30'), (1241, 'TD60')]:
    label(x, 1493.3, t, 14.2)
f_blocks = [(658.3, 791, 789.3, YEL, f_td0_fams, all_td0_macro, cell_td0_macro), (798.3, 865, 865, BLU, f_n4, all_td0_normo, cell_td0_normo),
            (875, 1007.6, 1005.7, YEL, f_td0_fams, all_td30_macro, cell_td30_macro), (1015, 1098, 1096, BLU, f_n5, all_td30_normo, cell_td30_normo),
            (1107.6, 1240, 1241, YEL, f_td60_fams, all_td60_macro, cell_td60_macro), (1247.6, 1330.5, 1330.5, BLU, f_n5, all_td60_normo, cell_td60_normo)]
for x0, x1, sx1, strip, fams, all_vals, cell_vals in f_blocks:
    box(x0, 1505.7, sx1, 1514.7, strip)
    ax = axpx(x0, 1528, x1, 1560)
    ax.pcolormesh([all_vals], cmap=f_cmap, norm=f_norm, edgecolors='#444444', linewidth=.9)
    ax.set_xticks([])
    ax.set_yticks([])
    for sp in ax.spines.values():
        sp.set_color('#444444')
        sp.set_linewidth(1.2)
    ax = axpx(x0, 1574, x1, 1719.3)
    ax.pcolormesh(np.ma.masked_invalid(cell_vals), cmap=f_cmap, norm=f_norm, edgecolors='#BDBDBD', linewidth=.7)
    ax.invert_yaxis()
    ax.axis('off')
    step = (x1 - x0) / len(fams)
    for i, fam in enumerate(fams):
        label(x0 + (i + .5) * step, 1725, fam, 10.6, color='#555555', rotation=90, va='top')
label(654, 1545, 'All cells', 10, ha='right', fontweight='bold')
for i, name in enumerate(f_rows):
    label(652, 1574 + (i + .5) * 20.76, name, 9.6, color='#555555', ha='right')

fig.savefig('out.png', dpi=100)
